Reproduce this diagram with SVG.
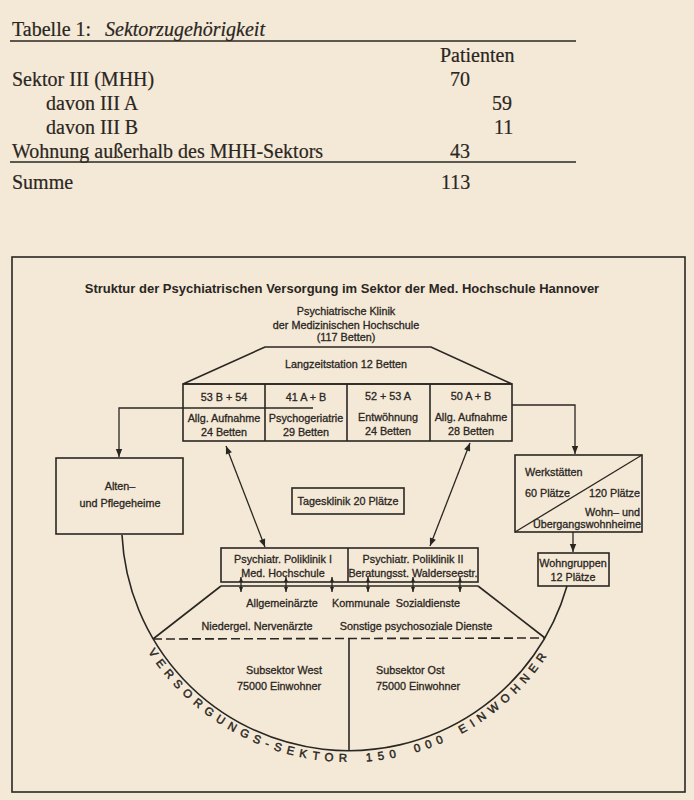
<svg xmlns="http://www.w3.org/2000/svg" width="694" height="800" viewBox="0 0 694 800">
<defs>
<style>
.bg{fill:#f4e9d7}
.ln{fill:none;stroke:#2a2622;stroke-width:1.3}
.box{fill:none;stroke:#2a2622;stroke-width:1.6}
.t{font-family:"Liberation Serif","Times New Roman",serif;font-size:20px;fill:#2a2622;stroke:#2a2622;stroke-width:0.2}
.ti{font-style:italic}
.d{font-family:"Liberation Sans",Arial,sans-serif;font-size:10.8px;fill:#2a2622;stroke:#2a2622;stroke-width:0.3}
.c{text-anchor:middle}
.e{text-anchor:end}
.title{font-family:"Liberation Sans",Arial,sans-serif;font-size:13px;font-weight:bold;fill:#2a2622;text-anchor:middle}
.arc{font-family:"Liberation Sans",Arial,sans-serif;font-size:11.5px;fill:#2a2622;stroke:#2a2622;stroke-width:0.45;letter-spacing:5.6px;word-spacing:5px}
</style>
<marker id="ah" viewBox="0 0 10 10" refX="10" refY="5" markerWidth="9" markerHeight="8" markerUnits="userSpaceOnUse" orient="auto-start-reverse"><path d="M0,1 L10,5 L0,9 z" fill="#2a2622"/></marker>
<marker id="sm" viewBox="0 0 10 10" refX="10" refY="5" markerWidth="5" markerHeight="5" markerUnits="userSpaceOnUse" orient="auto-start-reverse"><path d="M0,1 L10,5 L0,9 z" fill="#2a2622"/></marker>
<path id="arcText" d="M 111,524 A 238 238 0 0 0 587,524"/>
</defs>
<rect class="bg" x="0" y="0" width="694" height="800"/>

<g id="tabelle">
<text class="t" x="12" y="36">Tabelle 1:</text>
<text class="t ti" x="105" y="36">Sektorzugehörigkeit</text>
<line class="ln" x1="10" y1="41" x2="576" y2="41"/>
<text class="t" x="440" y="62">Patienten</text>
<text class="t" x="12" y="86">Sektor III (MHH)</text>
<text class="t" x="450" y="86">70</text>
<text class="t" x="46" y="110">davon III A</text>
<text class="t" x="492" y="110">59</text>
<text class="t" x="46" y="134">davon III B</text>
<text class="t" x="494" y="134">11</text>
<text class="t" x="12" y="158">Wohnung außerhalb des MHH-Sektors</text>
<text class="t" x="450" y="158">43</text>
<line class="ln" x1="10" y1="162" x2="576" y2="162"/>
<text class="t" x="12" y="189">Summe</text>
<text class="t" x="441" y="189">113</text>
</g>

<rect class="box" x="12" y="257" width="673" height="535" stroke-width="1.2"/>
<text class="title" x="342" y="293">Struktur der Psychiatrischen Versorgung im Sektor der Med. Hochschule Hannover</text>

<g id="klinik">
<text class="d c" x="346" y="315">Psychiatrische Klinik</text>
<text class="d c" x="346" y="329">der Medizinischen Hochschule</text>
<text class="d c" x="346" y="341">(117 Betten)</text>
<path class="box" d="M183,384 L265,347 L431,347 L512,384 Z"/>
<text class="d c" x="346" y="368">Langzeitstation 12 Betten</text>
<rect class="box" x="183" y="384" width="329" height="57"/>
<line class="box" x1="265" y1="384" x2="265" y2="441"/>
<line class="box" x1="347" y1="384" x2="347" y2="441"/>
<line class="box" x1="430" y1="384" x2="430" y2="441"/>
<line class="box" x1="183" y1="408" x2="313" y2="408"/>
<text class="d c" x="224" y="401">53 B + 54</text>
<text class="d c" x="224" y="422">Allg. Aufnahme</text>
<text class="d c" x="224" y="436">24 Betten</text>
<text class="d c" x="306" y="401">41 A + B</text>
<text class="d c" x="306" y="422">Psychogeriatrie</text>
<text class="d c" x="306" y="436">29 Betten</text>
<text class="d c" x="388" y="400">52 + 53 A</text>
<text class="d c" x="388" y="421">Entwöhnung</text>
<text class="d c" x="388" y="435">24 Betten</text>
<text class="d c" x="471" y="400">50 A + B</text>
<text class="d c" x="471" y="421">Allg. Aufnahme</text>
<text class="d c" x="471" y="435">28 Betten</text>
</g>

<g id="alten">
<rect class="box" x="56" y="458" width="127" height="76"/>
<text class="d c" x="120" y="490">Alten–</text>
<text class="d c" x="120" y="507">und Pflegeheime</text>
</g>

<g id="tagesklinik">
<rect class="box" x="292" y="488" width="112" height="26"/>
<text class="d c" x="348" y="505">Tagesklinik 20 Plätze</text>
</g>

<g id="werkstaetten">
<rect class="box" x="515" y="455" width="127" height="77"/>
<line class="ln" x1="515" y1="532" x2="642" y2="455"/>
<text class="d" x="525" y="476">Werkstätten</text>
<text class="d" x="525" y="497">60 Plätze</text>
<text class="d e" x="640" y="497">120 Plätze</text>
<text class="d e" x="640" y="516">Wohn– und</text>
<text class="d e" x="641" y="528">Übergangswohnheime</text>
</g>

<g id="wohngruppen">
<rect class="box" x="538" y="553" width="71" height="33"/>
<text class="d c" x="573" y="567">Wohngruppen</text>
<text class="d c" x="573" y="581">12 Plätze</text>
</g>

<g id="poliklinik">
<rect class="box" x="221" y="548" width="257" height="34"/>
<line class="box" x1="348" y1="548" x2="348" y2="582"/>
<line class="box" x1="221" y1="586" x2="478" y2="586"/>
<text class="d c" x="283" y="563">Psychiatr. Poliklinik I</text>
<text class="d c" x="283" y="577">Med. Hochschule</text>
<text class="d c" x="413" y="563">Psychiatr. Poliklinik II</text>
<text class="d c" x="413" y="577">Beratungsst. Walderseestr.</text>
</g>

<g id="versorgungssektor">
<path class="box" d="M122,535 A227,227 0 0 0 567,586"/>
<line class="box" x1="221" y1="586" x2="153" y2="639"/>
<line class="box" x1="478" y1="586" x2="545" y2="638"/>
<line class="box" x1="153" y1="639" x2="545" y2="638" stroke-dasharray="9 4"/>
<line class="box" x1="349" y1="639" x2="349" y2="751"/>
<text class="d c" x="282" y="607">Allgemeinärzte</text>
<text class="d c" x="396" y="607" xml:space="preserve">Kommunale  Sozialdienste</text>
<text class="d c" x="257" y="630">Niedergel. Nervenärzte</text>
<text class="d c" x="416" y="630">Sonstige psychosoziale Dienste</text>
<text class="d e" x="322" y="674">Subsektor West</text>
<text class="d e" x="321" y="690">75000 Einwohner</text>
<text class="d" x="376" y="674">Subsektor Ost</text>
<text class="d" x="376" y="690">75000 Einwohner</text>
<text class="arc"><textPath href="#arcText" startOffset="50%" text-anchor="middle">VERSORGUNGS-SEKTOR 150 000 EINWOHNER</textPath></text>
</g>

<g id="connectors">
<polyline class="ln" points="183,408 119,408 119,457" marker-end="url(#ah)"/>
<polyline class="ln" points="512,405 575,405 575,454" marker-end="url(#ah)"/>
<line class="ln" x1="573" y1="532" x2="573" y2="552" marker-end="url(#ah)"/>
<line class="ln" x1="226" y1="446" x2="265" y2="547" marker-start="url(#ah)" marker-end="url(#ah)"/>
<line class="ln" x1="470" y1="443" x2="430" y2="546" marker-start="url(#ah)" marker-end="url(#ah)"/>
<line class="ln" x1="241" y1="577" x2="241" y2="592" marker-start="url(#sm)" marker-end="url(#sm)"/>
<line class="ln" x1="286" y1="577" x2="286" y2="592" marker-start="url(#sm)" marker-end="url(#sm)"/>
<line class="ln" x1="332" y1="577" x2="332" y2="592" marker-start="url(#sm)" marker-end="url(#sm)"/>
<line class="ln" x1="368" y1="577" x2="368" y2="592" marker-start="url(#sm)" marker-end="url(#sm)"/>
<line class="ln" x1="413" y1="577" x2="413" y2="592" marker-start="url(#sm)" marker-end="url(#sm)"/>
<line class="ln" x1="460" y1="577" x2="460" y2="592" marker-start="url(#sm)" marker-end="url(#sm)"/>
</g>
</svg>
